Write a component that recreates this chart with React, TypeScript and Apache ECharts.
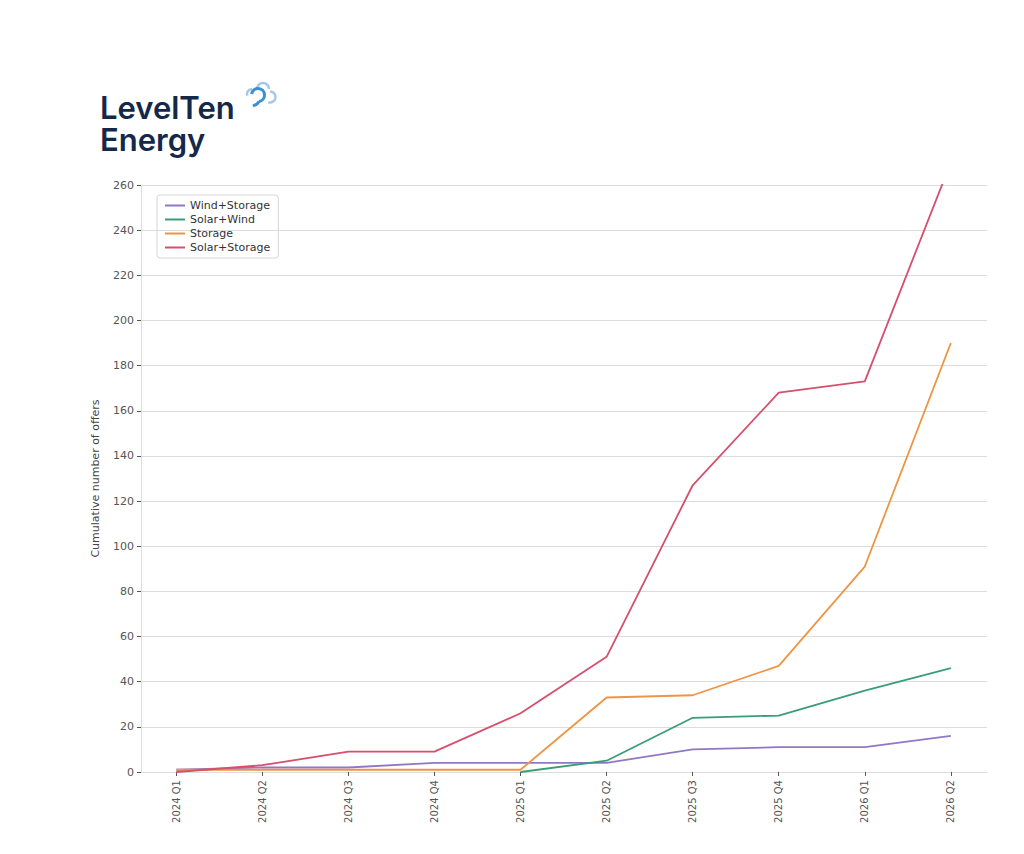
import { useEffect, useRef } from 'react';
import * as echarts from 'echarts';

const quarters = [
  '2024 Q1', '2024 Q2', '2024 Q3', '2024 Q4',
  '2025 Q1', '2025 Q2', '2025 Q3', '2025 Q4',
  '2026 Q1', '2026 Q2',
];

const windStorage = [1, 2, 2, 4, 4, 4, 10, 11, 11, 16];
const solarWind = [null, null, null, null, 0, 5, 24, 25, 36, 46];
const storage = [1, 1, 1, 1, 1, 33, 34, 47, 91, 190];
const solarStorage = [0, 3, 9, 9, 26, 51, 127, 168, 173, 270];

const seriesNames = ['Wind+Storage', 'Solar+Wind', 'Storage', 'Solar+Storage'];
const seriesColors = ['#9079c4', '#3a9d76', '#ee9443', '#d64f6c'];

const yTicks = { min: 0, max: 260, step: 20 };

const FONT = '"DejaVu Sans", sans-serif';
const LOGO_FONT = '600 31px Inter, "Open Sans", sans-serif';

export default function App() {
  const ref = useRef<HTMLDivElement | null>(null);

  useEffect(() => {
    if (!ref.current) return;
    const chart = echarts.init(ref.current, undefined, { renderer: 'svg' });
    const all = [windStorage, solarWind, storage, solarStorage];
    const idx = quarters.map((_, i) => i);

    chart.setOption({
      animation: false,
      backgroundColor: '#ffffff',
      textStyle: { fontFamily: FONT },
      grid: { left: 141, right: 37, top: 185, bottom: 82, containLabel: false },
      legend: {
        orient: 'vertical',
        left: 157,
        top: 195,
        data: seriesNames,
        icon: 'rect',
        itemWidth: 20,
        itemHeight: 2,
        itemGap: 3,
        padding: [5, 8, 5, 8],
        borderColor: '#d6d6d6',
        borderWidth: 1,
        borderRadius: 3,
        textStyle: { fontSize: 11, color: '#333', fontFamily: FONT },
      },
      xAxis: {
        type: 'value',
        min: -0.41,
        max: 9.42,
        splitLine: { show: false },
        axisLine: { show: true, onZero: false, lineStyle: { color: '#dddddd', width: 1 } },
        axisTick: {
          show: true,
          length: 4,
          customValues: idx,
          lineStyle: { color: '#555' },
        },
        axisLabel: {
          customValues: idx,
          rotate: 90,
          fontSize: 10,
          color: '#555',
          margin: 8,
          fontFamily: FONT,
          formatter: (v: number) => quarters[Math.round(v)] ?? '',
        },
      },
      yAxis: {
        type: 'value',
        min: yTicks.min,
        max: yTicks.max,
        interval: yTicks.step,
        name: 'Cumulative number of offers',
        nameLocation: 'middle',
        nameRotate: 90,
        nameGap: 40,
        nameTextStyle: { fontSize: 11, color: '#444', fontFamily: FONT },
        splitLine: { show: true, lineStyle: { color: '#dcdcdc', width: 1 } },
        axisLine: { show: true, onZero: false, lineStyle: { color: '#dddddd', width: 1 } },
        axisTick: { show: true, length: 4, lineStyle: { color: '#555' } },
        axisLabel: { fontSize: 11, color: '#555', margin: 7, fontFamily: FONT },
      },
      series: all.map((vals, s) => ({
        name: seriesNames[s],
        type: 'line',
        data: vals.map((v, i) => [i, v]),
        showSymbol: false,
        symbol: 'none',
        clip: true,
        connectNulls: false,
        lineStyle: { color: seriesColors[s], width: 1.8 },
        itemStyle: { color: seriesColors[s] },
      })),
      graphic: [
        {
          type: 'text',
          left: 100,
          top: 92,
          style: { text: 'LevelTen', font: LOGO_FONT, lineHeight: 31, fill: '#14294a' },
        },
        {
          type: 'text',
          left: 100,
          top: 124,
          style: { text: 'Energy', font: LOGO_FONT, lineHeight: 31, fill: '#14294a' },
        },
        // cloud outline
        {
          type: 'arc',
          shape: { cx: 263, cy: 89, r: 6, startAngle: Math.PI * 1.0, endAngle: Math.PI * 2.0, clockwise: true },
          style: { stroke: '#a8c7e6', lineWidth: 2.5, fill: 'none' },
        },
        {
          type: 'arc',
          shape: { cx: 270, cy: 97, r: 5.5, startAngle: Math.PI * 1.5, endAngle: Math.PI * 2.6, clockwise: true },
          style: { stroke: '#a8c7e6', lineWidth: 2.5, fill: 'none' },
        },
        {
          type: 'arc',
          shape: { cx: 252, cy: 94, r: 5, startAngle: Math.PI * 0.9, endAngle: Math.PI * 1.5, clockwise: true },
          style: { stroke: '#a8c7e6', lineWidth: 2.5, fill: 'none' },
        },
        // hook
        {
          type: 'arc',
          shape: { cx: 258, cy: 95, r: 6.5, startAngle: Math.PI * 1.05, endAngle: Math.PI * 2.45, clockwise: true },
          style: { stroke: '#3b8fd6', lineWidth: 3, fill: 'none' },
        },
        {
          type: 'polyline',
          shape: { points: [[259, 101.5], [257, 104], [253, 106]] },
          style: { stroke: '#3b8fd6', lineWidth: 3, fill: 'none' },
        },
      ],
    });

    return () => {
      chart.dispose();
    };
  }, []);

  return (
    <div
      ref={ref}
      style={{ position: 'fixed', left: 0, top: 0, width: 1024, height: 854 }}
    />
  );
}
